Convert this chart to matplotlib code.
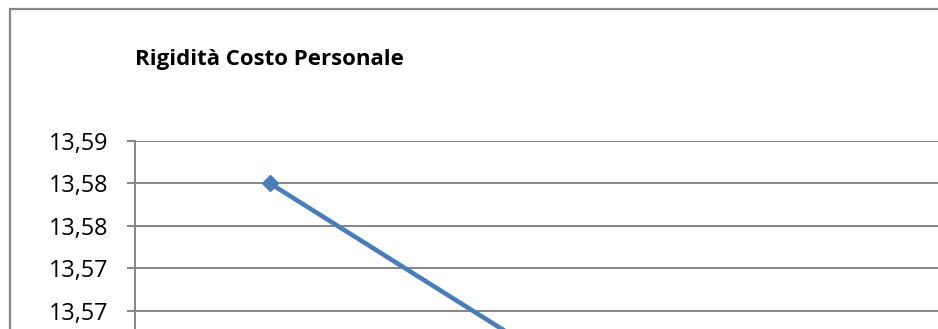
import matplotlib
matplotlib.use("Agg")
import matplotlib.pyplot as plt
from matplotlib.patches import Rectangle
from matplotlib.ticker import FixedLocator

# Series data
categories = [0, 1]
values = [13.585, 13.565]
yticks = [13.57, 13.575, 13.58, 13.585, 13.59]
ytick_labels = ["13,57", "13,57", "13,58", "13,58", "13,59"]
title = "Rigidità Costo Personale"

W, H = 938, 329
fig = plt.figure(figsize=(W / 100, H / 100), dpi=100)
fig.patch.set_facecolor("white")

grey = "#868686"
blue = "#4A7EBB"

# Chart-area border (extends past the canvas on the right and bottom)
fig.patches.append(Rectangle((10 / W, -0.5), 1.5, 1 - 9 / H + 0.5,
                             transform=fig.transFigure, fill=False,
                             edgecolor=grey, linewidth=1.6, zorder=0))

# Plot area: 42.4 px per 0.005 step, top tick at y=141 px, axis at x=135 px
step_px = 42.4
n_steps = 6
top = 1 - 141 / H
height = n_steps * step_px / H
left = 135 / W
width = 810 / W
ax = fig.add_axes([left, top - height, width, height])
ax.set_ylim(13.56, 13.59)
ax.set_xlim(-0.5, 2.5)

ax.yaxis.set_major_locator(FixedLocator(yticks))
ax.set_yticklabels(ytick_labels)
ax.set_xticks([])

ax.grid(axis="y", color=grey, linewidth=1.4)
ax.set_axisbelow(True)
for s in ["top", "right", "bottom"]:
    ax.spines[s].set_visible(False)
ax.spines["left"].set_color(grey)
ax.spines["left"].set_linewidth(1.4)
ax.tick_params(axis="y", length=6, width=1.4, color=grey, pad=13,
               labelsize=16.8, labelcolor="black")
for lab in ax.get_yticklabels():
    lab.set_fontfamily("Open Sans")

ax.plot(categories, values, color=blue, linewidth=3.3, marker="D",
        markersize=8.5, markerfacecolor=blue, markeredgecolor=blue,
        clip_on=False, zorder=3)

fig.text(269 / W, 1 - 65 / H, title, ha="center", va="baseline",
         fontfamily="Open Sans", fontweight="bold", fontsize=16,
         color="black")

fig.savefig("out.png", dpi=100)
